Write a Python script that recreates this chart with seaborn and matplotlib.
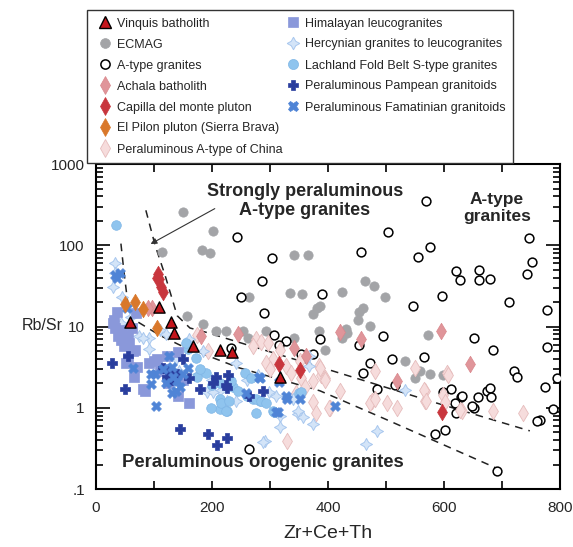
import numpy as np
import matplotlib.pyplot as plt
import matplotlib.ticker as mticker
from matplotlib.lines import Line2D
import seaborn as sns

sns.set_style('ticks')
plt.rcParams['font.family'] = ['Liberation Sans', 'DejaVu Sans']

# ---- data (Zr+Ce+Th vs Rb/Sr) ----
vinquis_x = [59, 109, 129, 134, 167, 214, 234, 317]
vinquis_y = [11.5, 17.2, 11.3, 8.4, 5.8, 5.2, 4.8, 2.4]

ecmag_x = [150, 202, 114, 183, 197, 341, 366, 464, 479, 334, 355, 424, 498, 264, 381, 386, 453, 460,
           472, 431, 384, 424, 395, 572, 533, 157, 185, 224, 262, 207, 253, 293, 341, 374, 452, 432,
           559, 550, 576, 598]
ecmag_y = [255, 149, 82, 87, 80, 75, 75, 36, 32, 26, 25.5, 27, 22.8, 22.8, 16.7, 18, 15.3, 17,
           10.3, 9.4, 8.7, 7.3, 5.2, 7.8, 3.8, 13.3, 10.9, 8.9, 7.3, 8.9, 8.7, 8.9, 7.3, 14.4, 12, 8.4,
           2.86, 2.3, 2.6, 2.5]

atype_x = [243, 303, 286, 390, 457, 503, 569, 555, 576, 597, 250, 621, 628, 660, 660, 679, 747, 752,
           743, 547, 712, 778, 495, 652, 684, 778, 453, 386, 472, 510, 566, 721, 726, 774, 612, 598,
           674, 679, 681, 659, 629, 619, 621, 652, 788, 766, 460, 484, 516, 584, 602, 760, 691, 631,
           648, 290, 307, 328, 316, 353, 374, 233, 264, 795]
atype_y = [126, 69, 36, 25, 82, 145, 349, 71, 95, 24, 23, 48, 37, 50, 37, 38, 122, 63,
           44, 18, 20, 15.8, 7.6, 7.3, 5.2, 5.6, 6, 7.1, 3.6, 4, 4.2, 2.8, 2.4, 1.8, 1.7, 1.55,
           1.62, 1.75, 1.37, 1.35, 1.37, 1.13, 0.86, 1.0, 0.97, 0.7, 2.65, 1.7, 1.9, 0.47, 0.53, 0.68, 0.167, 1.4,
           1.05, 14.5, 7.9, 6.7, 5.9, 4.6, 4.6, 5.5, 0.31, 2.3]

achala_x = [97, 90, 181, 245, 341, 362, 421, 457, 595, 645, 519]
achala_y = [17, 17, 7.7, 8.2, 5.5, 4.4, 8.5, 7, 8.9, 3.5, 2.15]

capilla_x = [105, 107, 109, 112, 116, 316, 352, 597]
capilla_y = [40, 44, 38, 31, 27, 3.5, 2.9, 0.9]

pilon_x = [50, 67, 81, 105]
pilon_y = [19, 20, 16.5, 9.5]

china_x = [174, 193, 276, 284, 297, 305, 293, 328, 336, 352, 353, 384, 388, 386, 395, 421, 481, 550,
           567, 567, 476, 472, 502, 519, 403, 374, 395, 374, 402, 481, 329, 566, 569, 598, 605, 602,
           631, 684, 736, 379, 607, 628, 271, 318, 300, 345, 360]
china_y = [7.8, 5, 7.1, 6.5, 6.3, 4, 3.6, 3.3, 2.65, 3.8, 2.3, 3.3, 2.5, 3.1, 2.3, 1.62, 2.86, 3.1,
           1.62, 1.22, 1.22, 1.15, 1.15, 1.0, 1.0, 2.15, 2.2, 1.17, 1.0, 1.3, 0.39, 1.65, 1.22, 1.45, 2.65, 1.17,
           0.92, 0.92, 0.87, 0.86, 2.55, 0.95, 5.8, 5.2, 3.0, 1.5, 1.8]

himal_x = [38, 55, 43, 57, 48, 64, 55, 52, 91, 100, 29, 81, 66, 141, 160, 67, 84, 105, 122, 141,
           36, 31, 69, 33, 45, 62, 70, 130, 118, 150, 110, 125]
himal_y = [7.7, 7.7, 6.9, 6.3, 5.8, 5, 4.1, 3.6, 3.6, 3.8, 11.2, 1.7, 2.4, 1.4, 1.15, 5.1, 1.62, 4, 4.3, 4.8,
           15, 12, 14.5, 9.5, 9, 9.5, 3.2, 2.5, 3.0, 2.2, 2.8, 2.0]

hercyn_x = [33, 29, 45, 43, 74, 91, 91, 138, 143, 81, 176, 191, 214, 226, 317, 317, 291, 202, 219,
            241, 298, 288, 348, 357, 374, 241, 367, 533, 367, 348, 466, 484, 32, 60, 110, 120, 160,
            185, 260, 280, 230, 200, 310, 340]
hercyn_y = [61, 31, 23, 11, 7.7, 7.3, 5.3, 4, 2.86, 7.3, 2.6, 1.55, 1.62, 1.22, 0.79, 0.58, 0.39, 1.55, 1.15,
            1.22, 1.55, 0.38, 0.84, 0.76, 0.64, 3.6, 3.3, 1.65, 4.4, 0.92, 0.36, 0.52, 45, 13, 9, 8, 7,
            5, 2.2, 2.5, 1.9, 2.2, 1.4, 1.3]

lachland_x = [35, 159, 174, 214, 236, 260, 271, 283, 305, 214, 214, 226, 198, 216, 224, 276, 284, 293,
              276, 307, 350, 257, 267, 233, 353, 155, 172, 190, 200, 245, 230, 180]
lachland_y = [180, 5.3, 2.4, 2.0, 1.8, 1.4, 1.3, 1.22, 0.92, 1.3, 0.97, 0.92, 1.0, 1.15, 0.92, 1.3, 1.22, 1.15,
              0.87, 0.9, 1.5, 2.65, 2.3, 2.15, 1.55, 6.3, 4.1, 2.65, 1.9, 1.6, 1.2, 3.0]

pampean_x = [27, 50, 55, 145, 193, 208, 226, 122, 150, 179, 202, 226, 288, 228, 116, 125, 207, 224,
             264, 130, 160, 140]
pampean_y = [3.6, 1.7, 4.3, 0.55, 0.48, 0.35, 0.43, 2.4, 4, 1.7, 2, 1.75, 1.62, 2.5, 3.1, 2.8, 2.4, 1.9,
             1.4, 2.2, 2.3, 2.6]

famat_x = [33, 41, 37, 53, 64, 103, 95, 126, 138, 95, 133, 102, 131, 140, 131, 150, 159, 283, 314,
           329, 352, 412, 281, 316, 328, 259, 310, 120, 145, 115]
famat_y = [43, 46, 40, 17, 3.1, 1.05, 1.95, 4.3, 1.62, 2.6, 2.4, 2.6, 3.2, 2.15, 1.5, 2.6, 3.1, 2.3, 0.9,
           1.3, 1.27, 1.06, 2.4, 2.1, 1.4, 1.5, 0.9, 2.0, 1.8, 3.0]

# discrimination boundaries (dashed)
left_line_x = [43, 48, 55, 67, 110, 145, 247, 386, 498, 691]
left_line_y = [105, 49, 19, 12, 7.8, 5.9, 3.1, 1.62, 0.73, 0.18]
right_line_x = [86, 102, 119, 140, 162, 190, 266, 391, 588, 748]
right_line_y = [270, 100, 43, 13.6, 9.6, 8.5, 5.8, 3.1, 1.14, 0.52]

# label, x, y, marker, size, face, edge, lw, zorder
series = [
    ('Vinquis batholith', vinquis_x, vinquis_y, '^', 65, '#c4161c', 'black', 1.0, 12),
    ('ECMAG', ecmag_x, ecmag_y, 'o', 45, '#a3a4a7', '#a3a4a7', 0.5, 3),
    ('A-type granites', atype_x, atype_y, 'o', 40, 'white', 'black', 1.1, 4),
    ('Achala batholith', achala_x, achala_y, 'd', 70, '#e0959a', '#d9868b', 0.5, 9),
    ('Capilla del monte pluton', capilla_x, capilla_y, 'd', 70, '#c8363d', '#c8363d', 0.5, 10),
    ('El Pilon pluton (Sierra Brava)', pilon_x, pilon_y, 'd', 70, '#d9782b', '#d9782b', 0.5, 10),
    ('Peraluminous A-type of China', china_x, china_y, 'd', 70, '#f6dcdc', '#e6bcbc', 0.6, 5),
    ('Himalayan leucogranites', himal_x, himal_y, 's', 44, '#8a98da', '#8a98da', 0.5, 7),
    ('Hercynian granites to leucogranites', hercyn_x, hercyn_y, (4, 1, 0), 75, '#d3e4f8', '#a8c7ee', 0.7, 6),
    ('Lachland Fold Belt S-type granites', lachland_x, lachland_y, 'o', 48, '#8fc4ee', '#7fb6e6', 0.5, 6),
    ('Peraluminous Pampean granitoids', pampean_x, pampean_y, 'P', 50, '#2a3e9e', '#2a3e9e', 0.5, 8),
    ('Peraluminous Famatinian granitoids', famat_x, famat_y, 'X', 50, '#4f84d6', '#4f84d6', 0.5, 8),
]

fig = plt.figure(figsize=(5.73, 5.47), dpi=100)
ax = fig.add_axes([0.1675, 0.106, 0.8098, 0.594])

for label, xs, ys, mk, s, fc, ec, lw, z in series:
    sns.scatterplot(x=xs, y=ys, marker=mk, s=s, color=fc, edgecolor=ec, linewidth=lw,
                    ax=ax, zorder=z, legend=False)

ax.plot(left_line_x, left_line_y, ls=(0, (5, 4)), color='#222222', lw=1.1, zorder=2)
ax.plot(right_line_x, right_line_y, ls=(0, (5, 4)), color='#222222', lw=1.1, zorder=2)

ax.annotate('', xy=(90, 100), xytext=(209, 294),
            arrowprops=dict(arrowstyle='-|>', color='#333333', lw=0.8, mutation_scale=9))

ax.text(360, 355, 'Strongly peraluminous\nA-type granites', ha='center', va='center',
        fontsize=13, fontweight='bold', linespacing=1.15)
ax.text(691, 290, 'A-type\ngranites', ha='center', va='center',
        fontsize=12.5, fontweight='bold', linespacing=1.15)
ax.text(287, 0.21, 'Peraluminous orogenic granites', ha='center', va='center',
        fontsize=13.3, fontweight='bold')

ax.set_yscale('log')
ax.set_xlim(0, 800)
ax.set_ylim(0.1, 1000)
ax.set_yticks([0.1, 1, 10, 100, 1000])
ax.set_yticklabels(['.1', '1', '10', '100', '1000'])
ax.yaxis.set_minor_locator(mticker.LogLocator(base=10, subs=np.arange(2, 10)))
ax.yaxis.set_minor_formatter(mticker.NullFormatter())
ax.set_xticks([0, 200, 400, 600, 800])
ax.xaxis.set_minor_locator(mticker.FixedLocator([100, 300, 500, 700]))

ax.tick_params(axis='both', which='both', direction='in', top=True, right=True,
               labelsize=11, width=1.2, color='black')
ax.tick_params(axis='y', which='major', length=10, pad=8)
ax.tick_params(axis='y', which='minor', length=5)
ax.tick_params(axis='x', which='both', length=5.5, pad=8.5)
for sp in ax.spines.values():
    sp.set_linewidth(1.5)
    sp.set_color('black')

ax.set_xlabel('Zr+Ce+Th', fontsize=14, labelpad=7)
fig.text(22 / 573, 1 - 326 / 547, 'Rb/Sr', fontsize=11.5, ha='left', va='center')

handles = []
for label, xs, ys, mk, s, fc, ec, lw, z in series:
    handles.append(Line2D([], [], marker=mk, linestyle='none', markersize=np.sqrt(s) * 1.05,
                          markerfacecolor=fc, markeredgecolor=ec, markeredgewidth=lw, label=label))
handles.append(Line2D([], [], linestyle='none', label=' '))
leg = fig.legend(handles=handles, ncol=2, loc='upper left',
                 bbox_to_anchor=(87 / 573, 1 - 10 / 547), fontsize=9,
                 frameon=True, fancybox=False, edgecolor='#333333', framealpha=1,
                 borderpad=0.6, handlelength=1.6, handletextpad=0.2, columnspacing=0.0,
                 labelspacing=0.72, borderaxespad=0)
leg.get_frame().set_linewidth(1.0)

fig.savefig('out.png', dpi=100)
